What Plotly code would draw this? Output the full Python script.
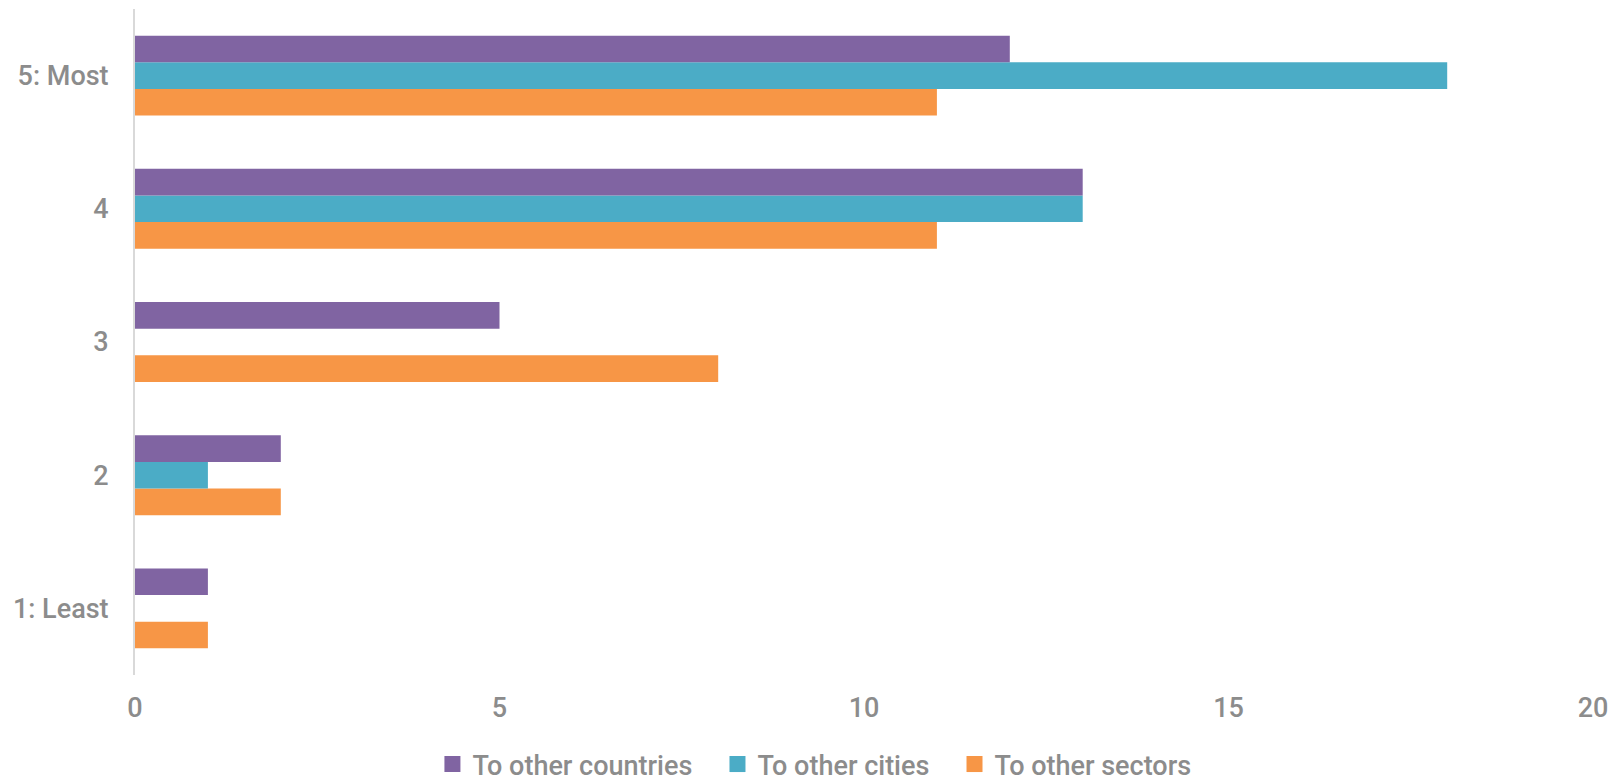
import plotly.graph_objects as go

categories = ["1: Least", "2", "3", "4", "5: Most"]
to_other_countries = [1, 2, 5, 13, 12]
to_other_cities = [0, 1, 0, 13, 18]
to_other_sectors = [1, 2, 8, 11, 11]
x_ticks = [0, 5, 10, 15, 20]

series_names = ["To other countries", "To other cities", "To other sectors"]
series_colors = ["#8064A2", "#4BACC6", "#F79646"]

FONT = "Roboto, Liberation Sans, Arial, sans-serif"
GRAY = "#8C8C8C"
NB = "\u00a0"

fig = go.Figure()
# bars: first trace drawn lowest in each group
for vals, name, color in [(to_other_sectors, series_names[2], series_colors[2]),
                          (to_other_cities, series_names[1], series_colors[1]),
                          (to_other_countries, series_names[0], series_colors[0])]:
    fig.add_trace(go.Bar(y=categories, x=vals, name=name, orientation="h",
                         marker=dict(color=color, line=dict(width=0)),
                         showlegend=False, legendgroup=name))

# legend entries with square swatches
pads = [NB * 3, NB * 3, ""]
for name, color, pad in zip(series_names, series_colors, pads):
    fig.add_trace(go.Scatter(x=[None], y=[None], mode="markers", name=name + pad,
                             legendgroup=name,
                             marker=dict(symbol="square", size=16, color=color,
                                         line=dict(width=0))))

fig.update_layout(
    width=1616, height=781,
    margin=dict(l=127, r=31, t=1, b=114),
    plot_bgcolor="white", paper_bgcolor="white",
    barmode="group", bargap=0.4, bargroupgap=0,
    font=dict(family=FONT, color=GRAY, size=27, weight=500),
    legend=dict(orientation="h", traceorder="normal", x=0.466, xanchor="center",
                yref="container", y=0.0, yanchor="bottom", tracegroupgap=0,
                font=dict(family=FONT, size=27, color=GRAY, weight=500),
                itemwidth=30),
    showlegend=True,
)
fig.update_xaxes(range=[0, 20], tickvals=x_ticks, showgrid=False, zeroline=False,
                 showline=False, ticks="", ticklabelstandoff=14, automargin=False,
                 tickfont=dict(size=27, color=GRAY))
fig.update_yaxes(type="category", categoryorder="array", categoryarray=categories,
                 showgrid=False, zeroline=False, showline=True, linecolor="#D9D9D9",
                 linewidth=2, ticks="", ticklabelstandoff=19, automargin=False,
                 tickfont=dict(size=27, color=GRAY))

fig.write_html("out.html")
